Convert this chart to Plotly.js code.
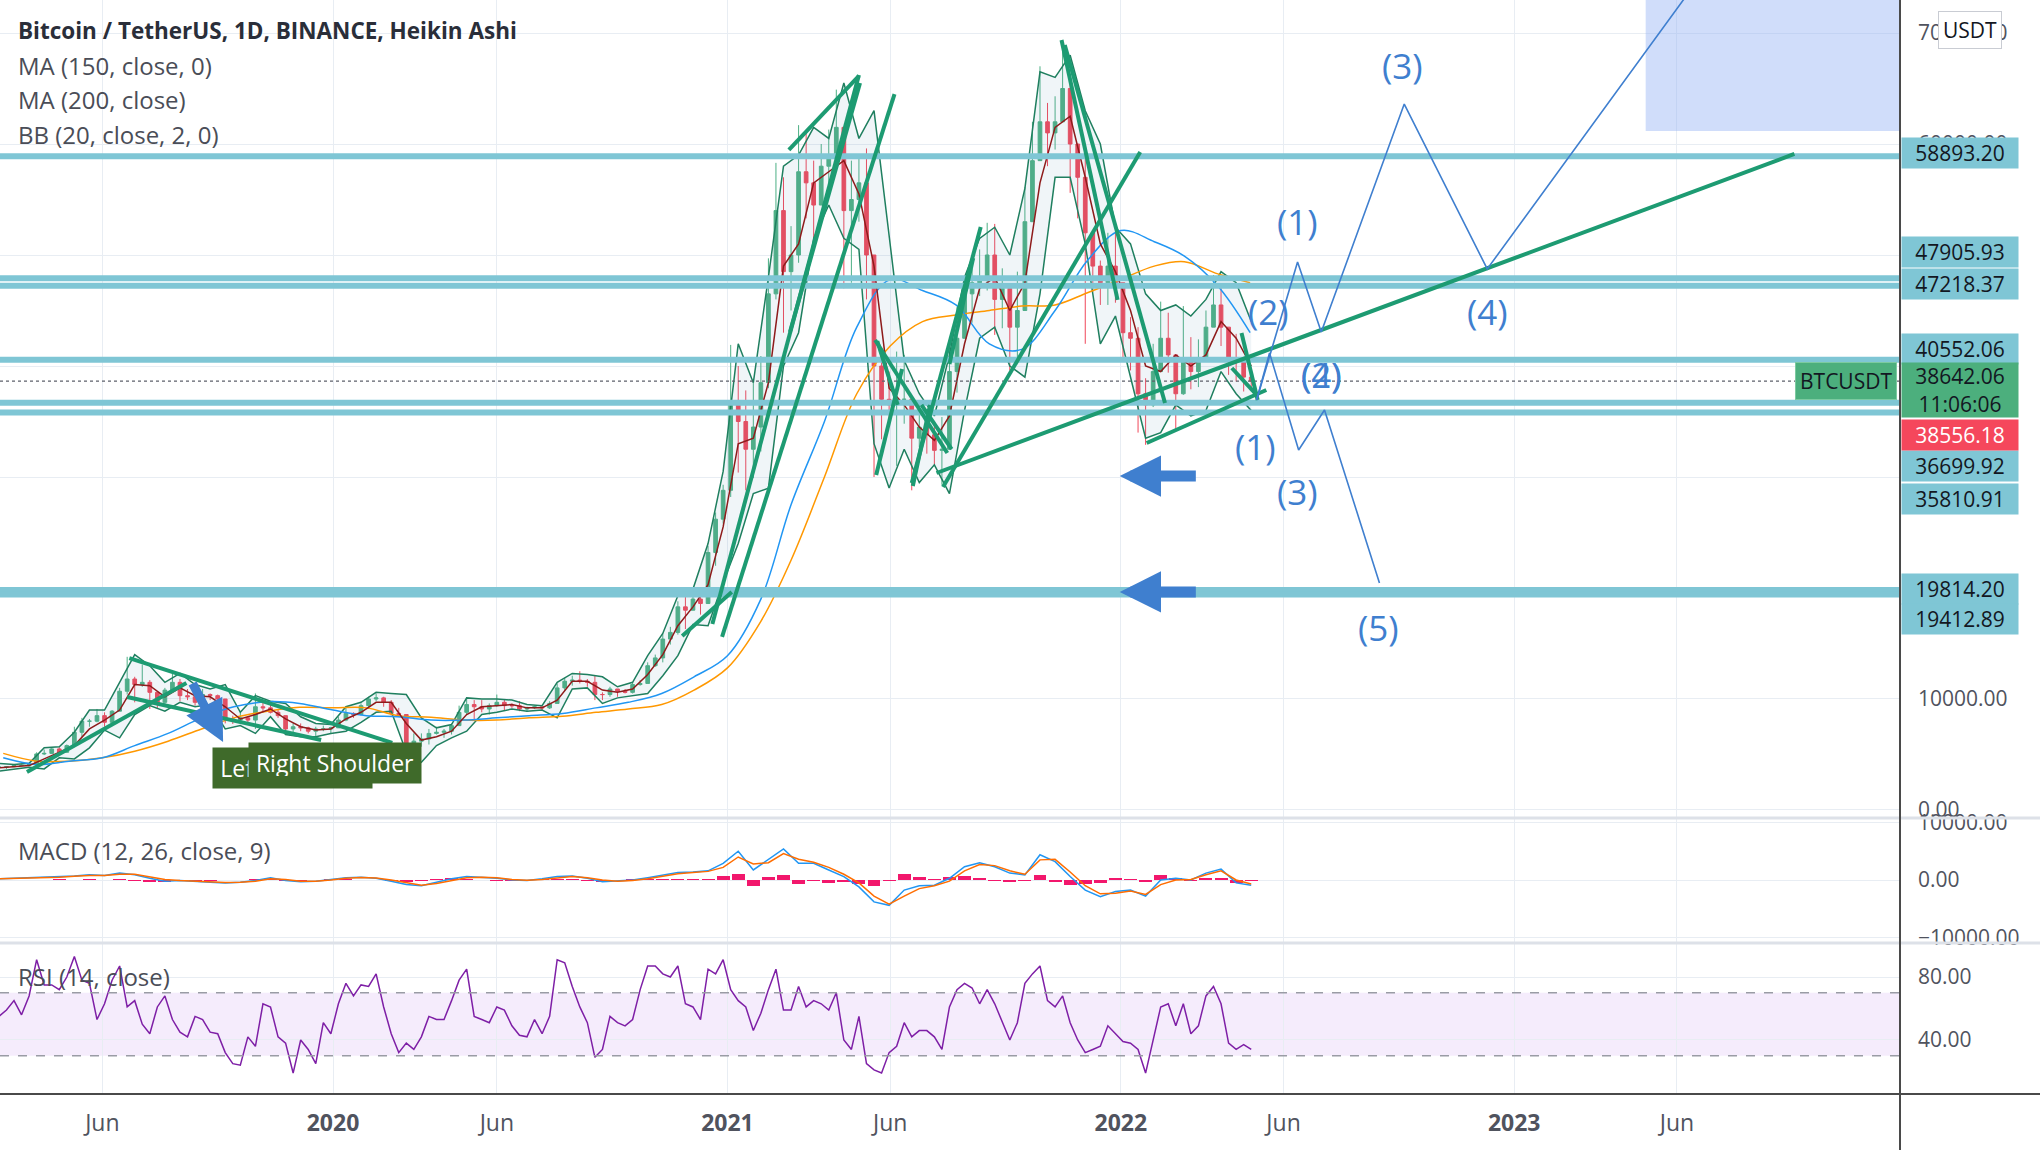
<!DOCTYPE html>
<html>
<head>
<meta charset="utf-8">
<script src="https://cdn.plot.ly/plotly-3.0.1.min.js"></script>
<style>
  html, body { margin: 0; padding: 0; background: #fff; }
  #grafico { width: 2040px; height: 1150px; }
</style>
</head>
<body>
<div id="grafico"></div>
<script>
// weekly Heikin Ashi bars (week starting Monday)
const firstWeek = '2019-02-25';
const firstOpen = 3850;
const close = [
  3870,3900,4000,4020,4100,5050,5100,5500,5200,5800,7000,8000,8000,8500,7900,8900,10700,11800,11300,11500,10600,9700,10800,11500,10300,10200,9700,10400,10300,10000,8200,8100,8300,8100,9300,9200,8800,8500,7300,7500,7400,7100,7300,7300,7400,
  8100,8700,8600,9400,10000,10100,9700,8700,8600,5600,6200,6400,6900,7000,7100,7600,8800,9500,9300,9100,9400,9700,9400,9400,9100,9200,9300,9200,9600,11000,11600,11700,11600,11500,10400,10400,10900,10700,10600,11300,11400,13000,13700,15400,16000,18300,18000,19000,18600,23200,26200,28800,
  36500,35000,32500,34500,38500,46500,54000,48500,50000,57500,56500,54500,58000,59000,61500,54000,55000,56500,50000,40000,37000,36500,37000,37000,33500,34500,33800,32400,32500,39500,42500,46500,47500,48000,50000,46000,47000,43500,45000,53000,58500,62000,61000,62000,65000,60000,57000,52000,49000,47500,49000,47500,
  43000,42500,37500,36500,39500,42500,41000,37500,40500,39500,40500,43500,45500,43500,40700,40500,39000,38642.06
];
const high = [
  3950,3950,4050,4100,4150,5200,5450,5600,5650,5900,7500,8300,8200,9100,8800,9000,11000,13800,12000,13100,11700,10700,11000,12300,11800,10900,10600,10900,10500,10400,10000,8500,8800,8400,10500,9900,9500,9000,8500,7800,7800,7500,7500,7600,7500,
  8400,9200,8800,9600,10200,10500,10200,9900,9200,8600,6900,6900,7300,7500,7300,7800,9400,10000,9900,9900,9600,10400,10000,9600,9800,9300,9400,9300,9800,11400,11900,12100,12500,11800,12100,10600,11100,10900,10900,11500,11700,13300,14000,15900,16500,18800,19400,19900,19400,23800,26800,29300,
  41900,40000,37800,38500,40900,49700,58300,57000,52600,61700,60900,58500,60000,61300,64900,61500,58500,59000,59600,50000,40900,39500,41300,41000,37000,36600,35100,34700,35400,42600,45300,48100,49400,50500,52900,52800,48800,47000,48500,56100,62000,67000,63700,64300,69000,66300,60000,59000,52000,49500,52000,52100,
  47500,44400,43500,38900,42000,45800,44800,41000,45400,42600,42400,45000,48200,47200,43500,42900,40800,39800
];
const low = [
  3750,3700,3850,3950,3950,4100,4950,5050,5100,5150,5700,6600,7500,7900,7500,7800,8900,10400,9700,11100,9100,9200,9400,10800,9800,9900,9400,9700,9900,9700,7800,7750,7800,7900,7300,8900,8700,8300,6800,6900,7100,6900,6400,7100,6900,
  7400,8000,8300,8500,9100,9800,9300,8500,8400,3800,4400,5700,5900,6800,6500,6800,7600,8600,8100,8800,8600,9300,9000,9200,8900,8900,9100,9000,9100,9600,10700,11200,11400,11100,9900,9900,10200,10200,10500,10500,11200,11400,12900,13300,14900,15800,16300,18000,17600,18600,22000,25800,
  28200,30400,28800,29900,32300,38000,46000,43000,45000,49300,53300,50400,54500,55500,59000,47000,47500,53000,46000,30000,33400,34700,31000,34800,28800,32700,32100,31100,29300,32500,37600,42500,43900,46300,46800,42800,43400,39600,40800,45000,53000,58500,58000,59500,62000,55600,53300,42000,46700,45500,45500,45700,
  40600,39600,34000,32900,36300,39500,39400,34300,37400,37900,38100,40500,43500,41800,39200,38600,37700,38000
];

// RSI (14), one reading per week
const rsi = [
  55,59,65,56,68,91,75,75,72,80,93,78,76,53,63,78,87,61,65,50,44,61,68,53,45,42,55,53,45,44,
  32,25,24,42,36,63,61,42,38,19,40,34,25,51,44,63,76,68,75,74,82,61,44,32,38,34,42,55,53,53,
  65,78,85,55,53,51,61,59,49,43,42,53,44,55,91,89,74,61,51,29,34,55,51,49,53,72,87,87,82,80,
  87,63,61,53,85,82,91,72,65,61,46,57,72,85,59,59,74,61,65,63,59,70,40,34,55,25,21,19,32,36,
  51,42,46,46,42,34,61,72,76,73,63,72,63,51,40,51,76,82,87,65,61,68,51,40,32,34,36,49,44,39,
  38,34,19,40,61,63,49,63,44,49,68,74,63,38,34,37,34
];

// every second week: MACD, signal, Bollinger bands
const macd = [
  200,300,300,400,600,700,900,800,1200,900,300,-200,-100,-300,-400,-500,-400,-100,400,-100,
  -300,-200,100,400,500,300,-200,-800,-1000,-400,200,600,500,300,0,-100,200,600,700,300,
  -300,-200,0,400,900,1300,1400,1600,2900,5000,1750,3500,5400,2900,2900,1750,600,-1200,-3800,-4400,
  -1750,-1000,-900,300,2300,3000,2300,1200,900,4400,3200,600,-1750,-2900,-2000,-1750,-2800,0,300,0,
  1200,1900,-500,-900
];
const signal = [
  200,250,300,350,500,650,800,800,1000,1000,600,100,-100,-200,-300,-450,-400,-200,200,100,
  -200,-200,0,300,450,350,0,-500,-900,-600,-100,400,500,400,100,-50,100,400,600,400,
  0,-200,-100,200,700,1100,1300,1500,2200,4000,2800,3000,4600,3600,3100,2200,1000,-500,-2800,-4200,
  -2800,-1500,-1000,-200,1600,2700,2500,1600,1000,3500,3600,1400,-1000,-2400,-2300,-1900,-2500,-800,0,100,
  900,1600,0,-700
];
const bbBasis = [
  3800,3900,4000,4600,5200,5800,7300,8100,9000,11300,11200,10200,11000,10300,10200,9300,8200,8600,9100,8200,
  7500,7200,7300,8200,8800,9700,9700,7800,6300,6600,7100,8600,9300,9400,9500,9200,9200,9900,11600,11600,
  10800,10600,10900,12200,14000,16600,18300,20300,25500,33000,33500,38500,49000,51000,56500,57500,58500,55500,49000,38000,
  36500,34500,33300,35500,42000,47000,48000,45000,47500,56500,61500,62500,57000,51000,48500,45000,40000,39500,41000,40000,
  41000,44000,42500,40000
];
const bbUpper = [
  4200,4100,4200,5600,5700,7000,9000,9000,11500,14000,13000,11500,12300,11300,10900,11300,8800,10300,9800,9600,
  8400,7800,7700,9300,9700,10600,10500,10400,8300,7400,7700,10100,10000,10000,9900,9500,9400,11500,12300,12200,
  12000,11100,11500,13900,15900,19300,19900,24000,30500,42000,38500,48000,58000,59000,61500,60500,65500,60500,63000,52000,
  40500,37500,35500,41000,48000,51500,52500,50000,56000,66500,66000,68000,63000,60000,52500,51000,46500,45000,45500,44500,
  46000,48500,47500,44000
];
const bbLower = [
  3500,3700,3850,3700,4700,4600,5600,7200,6500,8600,9400,8900,9700,9300,9500,7300,7600,6900,8400,6800,
  6600,6600,6900,7100,7900,8800,8900,5200,4300,5800,6500,7100,8600,8800,9100,8900,9000,8300,10900,11000,
  9600,10100,10300,10500,12100,13900,16700,16600,20500,24000,28500,29000,40000,43000,51500,54500,51500,50500,33000,29000,
  32500,29500,31100,28500,36000,42500,43500,40000,39000,46500,57000,57000,51000,42000,44500,39000,33500,34000,36500,35500,
  36000,39500,37500,36000
];

// moving averages, first of each month from 2019-03
const ma150 = [
  4700,4100,4400,4700,5800,6900,8300,9300,9750,9600,
  9000,8500,8400,8100,8100,8300,8500,8700,9200,9700,10500,12000,
  13900,19000,27500,35000,43500,47800,46800,45500,42000,41500,45000,49500,
  52200,51200,49900,47200,43000
];
const ma200 = [
  5100,4400,4400,4700,5300,6200,7300,8300,8900,9250,
  9200,9200,8500,8350,8100,8100,8300,8450,8800,9100,9500,10800,
  12800,17000,22500,30000,37500,41800,44000,44600,45000,45400,45500,46600,
  47800,49000,49400,48300,47500
];

// horizontal levels drawn on the chart
const levels = [58893.20, 47905.93, 47218.37, 40552.06, 36699.92, 35810.91, 19814.20, 19412.89];
const levelShift = [3, 26, 2, 11, -63, -87, 1, -24];
const askPrice = 38556.18;
const countdown = '11:06:06';

// green trend lines: [date1, price1, date2, price2]
const trendLines = [
  ['2019-03-23', 3420, '2019-08-18', 11440],
  ['2019-06-26', 13690, '2020-02-25', 6040],
  ['2019-06-24', 10180, '2019-12-21', 6310],
  ['2020-11-20', 15680, '2021-01-05', 19640],
  ['2020-12-18', 16760, '2021-05-03', 66220],
  ['2020-12-27', 15590, '2021-06-05', 64500],
  ['2021-02-27', 59460, '2021-05-03', 66130],
  ['2021-02-28', 43060, '2021-05-04', 65500],
  ['2021-05-20', 42250, '2021-06-08', 36490],
  ['2021-05-19', 30180, '2021-06-12', 39730],
  ['2021-06-22', 29190, '2021-07-08', 36490],
  ['2021-06-30', 36490, '2021-07-28', 32520],
  ['2021-05-18', 42340, '2021-07-24', 32160],
  ['2021-06-21', 29460, '2021-08-24', 52520],
  ['2021-07-26', 40180, '2021-08-17', 49730],
  ['2021-07-20', 29100, '2022-01-19', 59280],
  ['2021-07-14', 30360, '2023-09-18', 59100],
  ['2021-11-10', 68920, '2022-02-11', 36670],
  ['2021-11-07', 69370, '2021-12-29', 45950],
  ['2022-01-25', 33060, '2022-05-16', 37840],
  ['2022-04-23', 42970, '2022-05-08', 36940],
  ['2022-04-14', 39820, '2022-05-07', 37390]
];

// Elliott wave projections
const waveUpDates = ['2022-05-07', '2022-06-14', '2022-07-06', '2022-09-21', '2022-12-07', '2023-07-04'];
const waveUpPrices = [36940, 49370, 43060, 63600, 48740, 76580];
const waveDownDates = ['2022-05-07', '2022-05-19', '2022-06-15', '2022-07-09', '2022-08-29'];
const waveDownPrices = [36940, 41170, 32430, 36040, 20450];
const waveLabels = [
  ['(3)', '2022-09-19', 67100], ['(1)', '2022-06-14', 53060], ['(2)', '2022-05-18', 44870],
  ['(4)', '2022-12-07', 44870], ['(4)', '2022-07-06', 39190], ['(2)', '2022-07-06', 39190],
  ['(1)', '2022-05-06', 32790], ['(3)', '2022-06-14', 28650], ['(5)', '2022-08-28', 16400]
];

// blue arrows: [tail date, tail price, head date, head price]
const blueArrows = [
  ['2022-03-13', 30090, '2021-12-31', 30090],
  ['2022-03-13', 19640, '2021-12-31', 19640],
  ['2019-08-23', 11530, '2019-09-21', 6130]
];
const targetZone = ['2023-05-03', 61170];
const shoulders = [['Left Shoulder', '2019-09-11', 3740, 145], ['Right Shoulder', '2019-10-14', 4230, 158]];

const xTicks = ['2019-06-01', '2020-01-01', '2020-06-01', '2021-01-01', '2021-06-01', '2022-01-01', '2022-06-01', '2023-01-01', '2023-06-01'];
const xTickText = ['Jun', '<b>2020</b>', 'Jun', '<b>2021</b>', 'Jun', '<b>2022</b>', 'Jun', '<b>2023</b>', 'Jun'];

function addDays(iso, n) {
  const d = new Date(iso + 'T00:00:00Z');
  d.setUTCDate(d.getUTCDate() + n);
  return d.toISOString().slice(0, 10);
}
const weeks = close.map((_, i) => addDays(firstWeek, 7 * i));
const open = [firstOpen].concat(close.slice(0, -1));   // HA bar opens where the last one closed
const fortnights = weeks.filter((_, i) => i % 2 === 0);
const months = ma150.map((_, i) => {
  const m = 2 + i;
  return (2019 + Math.floor(m / 12)) + '-' + String(m % 12 + 1).padStart(2, '0') + '-01';
});
const lastPrice = close[close.length - 1];
const xRange = ['2019-02-26', '2023-12-25'];

const fuente = 'Open Sans, sans-serif';
const grid = '#e8edf3';
const cian = '#7fc6d5';

const trazas = [];
function linea(x, y, color, width, extra) {
  return Object.assign({ x: x, y: y, type: 'scatter', mode: 'lines', line: { color: color, width: width }, xaxis: 'x', yaxis: 'y' }, extra || {});
}

trazas.push(linea(fortnights, bbLower, '#1f7f5f', 1.5));
trazas.push(linea(fortnights, bbUpper, '#1f7f5f', 1.5, { fill: 'tonexty', fillcolor: 'rgba(110,160,185,0.10)' }));
trazas.push(linea(months, ma200, '#ff9800', 1.5, { line: { color: '#ff9800', width: 1.5, shape: 'spline' } }));
trazas.push(linea(months, ma150, '#2196f3', 1.5, { line: { color: '#2196f3', width: 1.5, shape: 'spline' } }));
trazas.push({
  type: 'candlestick', x: weeks, open: open, high: high, low: low, close: close,
  xaxis: 'x', yaxis: 'y', whiskerwidth: 0,
  increasing: { line: { color: '#4caf84', width: 1 }, fillcolor: '#4caf84' },
  decreasing: { line: { color: '#f0475a', width: 1 }, fillcolor: '#f0475a' }
});
trazas.push(linea(fortnights, bbBasis, '#8e1b1b', 1.5));

levels.forEach(lv => trazas.push(linea(xRange, [lv, lv], cian, 6)));
trazas.push(linea(xRange, [lastPrice, lastPrice], '#5d606b', 1, { line: { color: '#5d606b', width: 1.2, dash: 'dot' } }));

const tx = [], ty = [];
trendLines.forEach(t => { tx.push(t[0], t[2], null); ty.push(t[1], t[3], null); });
trazas.push(linea(tx, ty, '#1d9b72', 4));

trazas.push(linea(waveUpDates, waveUpPrices, '#3f7fcf', 1.6));
trazas.push(linea(waveDownDates, waveDownPrices, '#3f7fcf', 1.6));

// MACD panel
const hist = macd.map((v, i) => v - signal[i]);
trazas.push({ type: 'bar', x: fortnights, y: hist, xaxis: 'x', yaxis: 'y2', marker: { color: '#f2176c', line: { width: 0 } }, width: 12 * 864e5 });
trazas.push(linea(fortnights, macd, '#2196f3', 1.5, { yaxis: 'y2' }));
trazas.push(linea(fortnights, signal, '#ff6d00', 1.5, { yaxis: 'y2' }));

// RSI panel
trazas.push(linea(weeks, rsi, '#7e1fa6', 1.5, { yaxis: 'y3' }));

const tickFont = { family: fuente, size: 21, color: '#50535e' };
const priceTicks = [0, 10000, 20000, 30000, 40000, 50000, 60000, 70000];

const anotaciones = [];
function texto(t, y, bold, size) {
  anotaciones.push({
    xref: 'paper', yref: 'paper', x: 0.0084, y: y, xanchor: 'left', yanchor: 'middle', showarrow: false,
    text: bold ? '<b>' + t + '</b>' : t, font: { family: fuente, size: size, color: bold ? '#2a2e39' : '#4a4d57' }
  });
}
texto('Bitcoin / TetherUS, 1D, BINANCE, Heikin Ashi', 0.9717, true, 22.5);
texto('MA (150, close, 0)', 0.9397, false, 24);
texto('MA (200, close)', 0.9086, false, 24);
texto('BB (20, close, 2, 0)', 0.8775, false, 24);
texto('MACD (12, 26, close, 9)', 0.2230, false, 24);
texto('RSI (14, close)', 0.1070, false, 24);

shoulders.forEach(s => anotaciones.push({
  xref: 'x', yref: 'y', x: s[1], y: s[2], xanchor: 'left', yanchor: 'middle', showarrow: false,
  text: s[0], bgcolor: '#3f6a2a', width: s[3], height: 26, borderpad: 7, align: 'center',
  font: { family: fuente, size: 23, color: '#ffffff' }
}));

waveLabels.forEach(w => anotaciones.push({
  xref: 'x', yref: 'y', x: w[1], y: w[2], showarrow: false, text: w[0],
  font: { family: fuente, size: 35, color: '#3f7fcf' }
}));

blueArrows.forEach((a, i) => anotaciones.push({
  xref: 'x', yref: 'y', axref: 'x', ayref: 'y', x: a[2], y: a[3], ax: a[0], ay: a[1], text: '',
  showarrow: true, arrowhead: 2, arrowsize: i < 2 ? 0.75 : 0.9, arrowwidth: i < 2 ? 11 : 9, arrowcolor: '#3f7fcf'
}));

// price scale labels
levels.forEach((lv, i) => anotaciones.push({
  xref: 'paper', yref: 'y', x: 1.0006, y: lv, yshift: levelShift[i], xanchor: 'left', yanchor: 'middle',
  showarrow: false, text: lv.toFixed(2), bgcolor: cian, width: 112, height: 26, borderpad: 2, align: 'center',
  font: { family: fuente, size: 21, color: '#131722' }
}));
anotaciones.push({
  xref: 'paper', yref: 'y', x: 1.0006, y: lastPrice, yshift: -9, xanchor: 'left', yanchor: 'middle',
  showarrow: false, text: lastPrice.toFixed(2) + '<br>' + countdown, bgcolor: '#4caf7d', width: 112, height: 50,
  borderpad: 2, align: 'center', font: { family: fuente, size: 21, color: '#131722' }
});
anotaciones.push({
  xref: 'paper', yref: 'y', x: 1.0006, y: askPrice, yshift: -53, xanchor: 'left', yanchor: 'middle',
  showarrow: false, text: askPrice.toFixed(2), bgcolor: '#f5475c', width: 112, height: 26, borderpad: 2,
  align: 'center', font: { family: fuente, size: 21, color: '#ffffff' }
});
anotaciones.push({
  xref: 'paper', yref: 'y', x: 0.9984, y: lastPrice, xanchor: 'right', yanchor: 'middle', showarrow: false,
  text: 'BTCUSDT', bgcolor: '#4caf7d', bordercolor: '#7ccaa0', borderwidth: 1, borderpad: 4,
  font: { family: fuente, size: 21, color: '#131722' }
});
anotaciones.push({
  xref: 'paper', yref: 'paper', x: 1.0368, y: 0.9727, xanchor: 'center', yanchor: 'middle', showarrow: false, text: 'USDT',
  bgcolor: '#ffffff', bordercolor: '#c9ccd3', borderwidth: 1, borderpad: 4,
  font: { family: fuente, size: 21, color: '#131722' }
});

const formas = [
  { type: 'rect', xref: 'x', yref: 'y', x0: targetZone[0], x1: '2024-02-01', y0: targetZone[1], y1: 90000,
    fillcolor: 'rgba(150,180,245,0.45)', line: { width: 0 }, layer: 'between' },
  { type: 'rect', xref: 'paper', yref: 'y3', x0: 0, x1: 1, y0: 30, y1: 70, fillcolor: 'rgba(176,110,235,0.13)', line: { width: 0 }, layer: 'between' },
  { type: 'line', xref: 'paper', yref: 'y3', x0: 0, x1: 1, y0: 70, y1: 70, line: { color: '#9a9ca5', width: 1.5, dash: 'dash' } },
  { type: 'line', xref: 'paper', yref: 'y3', x0: 0, x1: 1, y0: 30, y1: 30, line: { color: '#9a9ca5', width: 1.5, dash: 'dash' } },
  { type: 'line', xref: 'paper', yref: 'paper', x0: 0, x1: 1.0737, y0: 0.2523, y1: 0.2523, line: { color: '#dde1e8', width: 3 } },
  { type: 'line', xref: 'paper', yref: 'paper', x0: 0, x1: 1.0737, y0: 0.1380, y1: 0.1380, line: { color: '#dde1e8', width: 3 } },
  { type: 'line', xref: 'paper', yref: 'paper', x0: 0, x1: 1.0737, y0: 0, y1: 0, line: { color: '#4a4a4a', width: 2 } },
  { type: 'line', xref: 'paper', yref: 'paper', x0: 1, x1: 1, y0: -0.052, y1: 1, line: { color: '#4a4a4a', width: 2 } }
];

const layout = {
  width: 2040, height: 1150,
  margin: { l: 0, r: 140, t: 0, b: 56 },
  paper_bgcolor: '#ffffff', plot_bgcolor: '#ffffff',
  showlegend: false, hovermode: false, bargap: 0,
  font: { family: fuente },
  xaxis: {
    type: 'date', range: xRange, anchor: 'y3', rangeslider: { visible: false },
    tickvals: xTicks, ticktext: xTickText, tickfont: { family: fuente, size: 23, color: '#50535e' }, ticklabelstandoff: 13,
    showgrid: true, gridcolor: grid, zeroline: false, showline: false, ticks: ''
  },
  yaxis: {
    domain: [0.2523, 1], side: 'right', range: [-720, 72973], anchor: 'x',
    tickvals: priceTicks, ticktext: priceTicks.map(v => (v === 0 || v === 10000 || v >= 60000) ? v.toFixed(2) : ''),
    tickfont: tickFont, ticklabelstandoff: 17, showgrid: true, gridcolor: grid, zeroline: false, ticks: ''
  },
  yaxis2: {
    domain: [0.1380, 0.2523], side: 'right', range: [-10957, 10783], anchor: 'x',
    tickvals: [-10000, 0, 10000], ticktext: ['\u221210000.00', '0.00', '10000.00'],
    tickfont: tickFont, ticklabelstandoff: 17, showgrid: true, gridcolor: grid, zeroline: false, ticks: ''
  },
  yaxis3: {
    domain: [0, 0.1380], side: 'right', range: [5.7, 101.6], anchor: 'x',
    tickvals: [40, 80], ticktext: ['40.00', '80.00'],
    tickfont: tickFont, ticklabelstandoff: 17, showgrid: true, gridcolor: grid, zeroline: false, ticks: ''
  },
  shapes: formas,
  annotations: anotaciones
};

Plotly.newPlot('grafico', trazas, layout, { staticPlot: true, displayModeBar: false });
</script>
</body>
</html>
